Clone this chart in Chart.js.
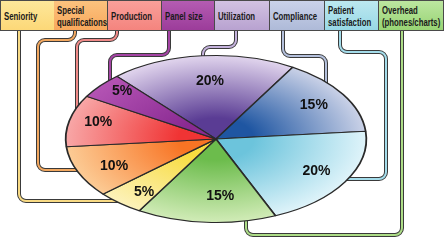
<!DOCTYPE html>
<html>
<head>
<meta charset="utf-8">
<script src="https://cdn.jsdelivr.net/npm/chart.js@4/dist/chart.umd.min.js"></script>
<style>
  html, body { margin: 0; padding: 0; background: #fff; }
  #wrap { position: relative; width: 446px; height: 243px; overflow: hidden; }
  #pie { position: absolute; left: 0; top: 0; }
  .hdr { position: absolute; top: 0; height: 31px; box-sizing: border-box; border: 1px solid #4a4a4a; border-left-width: 0; overflow: hidden; }
  .hdr:first-child { border-left-width: 1px; }
  .hdr span { position: absolute; left: 3px; top: 50%; display: block; white-space: nowrap; font: bold 10.5px "Liberation Sans", Arial, sans-serif; line-height: 12px; color: #1a1a1a; transform-origin: 0 50%; transform: translateY(-50%) scaleX(0.74); }
</style>
</head>
<body>
<div id="wrap">
  <canvas id="pie" width="446" height="243"></canvas>
  <div id="headers"></div>
</div>
<script>
// header order, left to right
const headerLabels = ['Seniority', 'Special\nqualifications', 'Production', 'Panel size', 'Utilization', 'Compliance', 'Patient\nsatisfaction', 'Overhead\n(phones/charts)'];
const headerColors = [['#fde79a', '#fcd878'], ['#fbc27e', '#f8a85c'], ['#f9a09a', '#f4847e'], ['#b45cb2', '#9c3c9a'], ['#d2c2e2', '#b8a2d0'], ['#cad2ea', '#aebad8'], ['#bce8f0', '#98d8e6'], ['#bce6a0', '#98d474']];
const headerEdges = [0, 54, 108, 162, 215, 270, 325, 379, 444];

// pie slices, clockwise from the top
const sliceNames = ['Utilization', 'Compliance', 'Patient satisfaction', 'Overhead (phones/charts)', 'Seniority', 'Special qualifications', 'Production', 'Panel size'];
const sliceValues = [20, 15, 20, 15, 5, 10, 10, 5];
const sliceInner = ['#5a3c94', '#1f56a2', '#6cc4dc', '#6cbc4c', '#f8dc40', '#f87424', '#f03434', '#8a2a92'];
const sliceOuter = ['#e2d6ee', '#ccd3e8', '#e0f4fa', '#d2ecb8', '#fcf2bc', '#fccc96', '#f8a8a8', '#b454b4'];
const lineColors = ['#c4b2dc', '#b4c0dc', '#a4dcea', '#acdc86', '#f8da84', '#f2a860', '#f08a88', '#a444a4'];

// where the % text sits inside each slice (fraction of radius, angle nudge in degrees)
const labelRadius = [0.70, 0.77, 0.77, 0.69, 0.80, 0.75, 0.81, 0.85];
const labelNudge = [2, 0, -1, -6, -3, -2, 2, 3];

const ELLIPSE_X = 1.8;

// connector routes, keyed like sliceNames
const connectorPaths = [
  [[236, 31], [236, 47], [203, 47], [203, 62]],
  [[283, 31], [283, 56], [326, 56], [326, 88]],
  [[340, 31], [340, 52], [386, 52], [386, 179], [340, 179]],
  [[402, 31], [402, 235], [246, 235], [246, 215]],
  [[19, 31], [19, 201], [118, 201]],
  [[75, 31], [75, 40], [38, 40], [38, 170], [82, 170]],
  [[117, 31], [117, 40], [77, 40], [77, 112]],
  [[169, 31], [169, 55], [110, 55], [110, 82]]
];

function buildHeaders() {
  const box = document.getElementById('headers');
  headerLabels.forEach((txt, i) => {
    const d = document.createElement('div');
    d.className = 'hdr';
    d.style.left = headerEdges[i] + 'px';
    d.style.width = (headerEdges[i + 1] - headerEdges[i] + (i === 0 ? 1 : 0)) + 'px';
    d.style.background = `linear-gradient(180deg, ${headerColors[i][0]}, ${headerColors[i][1]})`;
    const s = document.createElement('span');
    s.innerText = txt;
    d.appendChild(s);
    box.appendChild(d);
  });
}

function sliceFill(context) {
  const chart = context.chart;
  const area = chart.chartArea;
  const i = context.dataIndex;
  if (!area || i === undefined) return sliceOuter[i] || '#ccc';
  const cx = (area.left + area.right) / 2, cy = (area.top + area.bottom) / 2;
  const r = Math.min(area.right - area.left, area.bottom - area.top) / 2;
  const g = chart.ctx.createRadialGradient(cx, cy, 0, cx, cy, r);
  g.addColorStop(0, sliceInner[i]);
  g.addColorStop(0.25, sliceInner[i]);
  g.addColorStop(1, sliceOuter[i]);
  return g;
}

function roundedPath(ctx, pts, rad) {
  ctx.beginPath();
  ctx.moveTo(pts[0][0], pts[0][1]);
  for (let i = 1; i < pts.length - 1; i++) ctx.arcTo(pts[i][0], pts[i][1], pts[i + 1][0], pts[i + 1][1], rad);
  ctx.lineTo(pts[pts.length - 1][0], pts[pts.length - 1][1]);
}

const ellipsePlugin = {
  id: 'ellipse',
  beforeDatasetsDraw(chart) {
    const ctx = chart.ctx;
    // connector tubes go under the pie
    ctx.save();
    ctx.lineJoin = 'round';
    connectorPaths.forEach((p, i) => {
      roundedPath(ctx, p, 7);
      ctx.strokeStyle = '#3a3a3a';
      ctx.lineWidth = 4;
      ctx.stroke();
      roundedPath(ctx, p, 7);
      ctx.strokeStyle = lineColors[i];
      ctx.lineWidth = 2;
      ctx.stroke();
    });
    ctx.restore();

    const a = chart.chartArea;
    const cx = (a.left + a.right) / 2, cy = (a.top + a.bottom) / 2;
    ctx.save();
    ctx.translate(cx, cy);
    ctx.scale(ELLIPSE_X, 1);
    ctx.translate(-cx, -cy);
  },
  afterDatasetsDraw(chart) {
    const ctx = chart.ctx;
    ctx.restore();
    const arcs = chart.getDatasetMeta(0).data;
    ctx.save();
    ctx.font = 'bold 14px "Liberation Sans", Arial, sans-serif';
    ctx.fillStyle = '#111';
    ctx.textAlign = 'center';
    ctx.textBaseline = 'middle';
    arcs.forEach((arc, i) => {
      const mid = (arc.startAngle + arc.endAngle) / 2 + labelNudge[i] * Math.PI / 180;
      const f = labelRadius[i];
      const x = arc.x + Math.cos(mid) * arc.outerRadius * f * ELLIPSE_X;
      const y = arc.y + Math.sin(mid) * arc.outerRadius * f;
      ctx.fillText(sliceValues[i] + '%', x, y);
    });
    ctx.restore();
  }
};

buildHeaders();

new Chart(document.getElementById('pie'), {
  type: 'pie',
  data: {
    labels: sliceNames,
    datasets: [{
      data: sliceValues,
      backgroundColor: sliceFill,
      borderColor: '#2a2a2a',
      borderWidth: 1,
      hoverOffset: 0
    }]
  },
  options: {
    responsive: false,
    animation: false,
    devicePixelRatio: 1,
    rotation: -41.3,
    layout: { padding: { left: 132, right: 146, top: 55, bottom: 20 } },
    plugins: { legend: { display: false }, tooltip: { enabled: false } },
    events: []
  },
  plugins: [ellipsePlugin]
});
</script>
</body>
</html>
